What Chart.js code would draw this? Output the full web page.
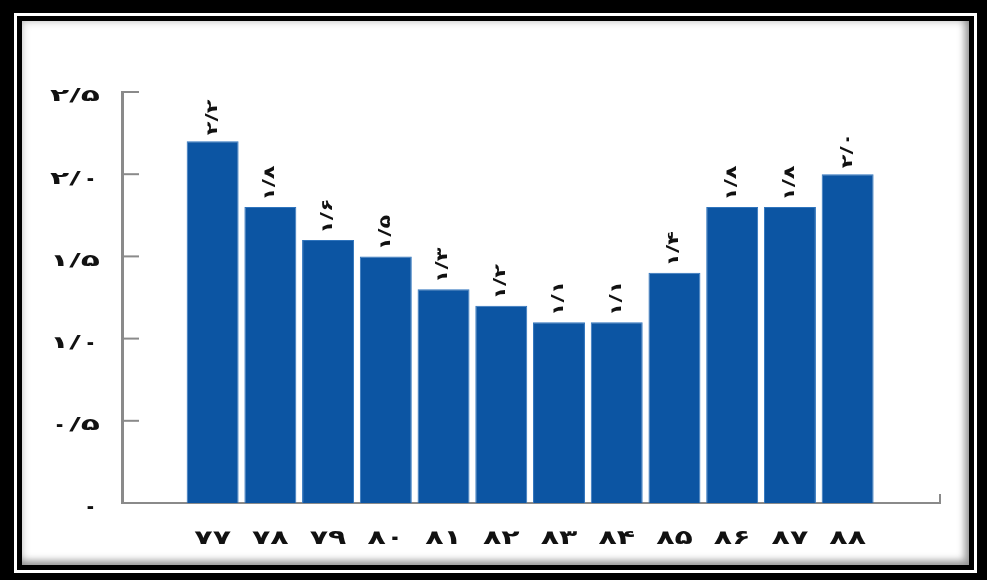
<!DOCTYPE html>
<html>
<head>
<meta charset="utf-8">
<script src="https://cdn.jsdelivr.net/npm/chart.js@4.4.0/dist/chart.umd.min.js"></script>
<style>
  html, body { margin: 0; padding: 0; background: #000; }
  body { width: 987px; height: 580px; position: relative; overflow: hidden; }
  .frame {
    position: absolute; left: 14px; top: 13px; width: 963px; height: 560px;
    box-sizing: border-box; border: 3px solid #fff; background: #000; padding: 5px;
  }
  .inner {
    width: 100%; height: 100%; background: #fff;
    box-shadow: inset 0 0 9px rgba(0,0,0,0.25), inset -5px -5px 7px rgba(0,0,0,0.3);
  }
  #wrap { position: absolute; left: 0; top: 0; width: 987px; height: 580px; }
</style>
</head>
<body>
<div class="frame"><div class="inner"></div></div>
<div id="wrap"><canvas id="barChart" width="987" height="580"></canvas></div>
<script>
// سال‌ها و مقادیر
const categories = ['۷۷', '۷۸', '۷۹', '۸۰', '۸۱', '۸۲', '۸۳', '۸۴', '۸۵', '۸۶', '۸۷', '۸۸'];
const values = [2.2, 1.8, 1.6, 1.5, 1.3, 1.2, 1.1, 1.1, 1.4, 1.8, 1.8, 2.0];
const yTicks = [0, 0.5, 1.0, 1.5, 2.0, 2.5];
const yTickLabels = ['۰', '۰/۵', '۱/۰', '۱/۵', '۲/۰', '۲/۵'];

// عدد به رقم فارسی با ممیز "/"
function toPersian(v) {
    const digits = '۰۱۲۳۴۵۶۷۸۹';
    return v.toFixed(1).replace('.', '/').replace(/\d/g, d => digits[d]);
}

// متن پهن‌شده در جهت افقی (کشش sx)
function drawWide(ctx, text, x, y, sx, align) {
    ctx.save();
    ctx.translate(x, y);
    ctx.scale(sx, 1);
    ctx.textAlign = align;
    ctx.fillText(text, 0, 0);
    ctx.restore();
}

// برچسب محورها، تیک‌های داخل محور عمودی و زائده انتهای محور افقی
const axisMarks = {
    id: 'axisMarks',
    afterDraw(chart) {
        const { ctx, chartArea, scales } = chart;
        ctx.save();
        ctx.strokeStyle = '#8a8a8a';
        ctx.lineWidth = 2;
        yTicks.forEach(v => {
            if (v === 0) return;
            const py = scales.y.getPixelForValue(v);
            ctx.beginPath();
            ctx.moveTo(chartArea.left, py);
            ctx.lineTo(chartArea.left + 17, py);
            ctx.stroke();
        });
        ctx.beginPath();
        ctx.moveTo(chartArea.right, chartArea.bottom);
        ctx.lineTo(chartArea.right, chartArea.bottom - 9);
        ctx.stroke();

        ctx.fillStyle = '#111';
        ctx.textBaseline = 'middle';
        ctx.font = 'bold 17px "DejaVu Sans"';
        yTicks.forEach((v, i) => {
            drawWide(ctx, yTickLabels[i], chartArea.left - 22, scales.y.getPixelForValue(v) + 5, 1.85, 'right');
        });
        ctx.font = 'bold 20px "DejaVu Sans"';
        categories.forEach((c, i) => {
            drawWide(ctx, c, scales.x.getPixelForValue(i), chartArea.bottom + 36, 1.5, 'center');
        });
        ctx.restore();
    }
};

// برچسب عمودی مقدار بالای هر ستون
const barLabels = {
    id: 'barLabels',
    afterDatasetsDraw(chart) {
        const ctx = chart.ctx;
        const meta = chart.getDatasetMeta(0);
        ctx.save();
        ctx.fillStyle = '#111';
        ctx.font = 'bold 15px "DejaVu Sans"';
        ctx.textAlign = 'left';
        ctx.textBaseline = 'middle';
        meta.data.forEach((bar, i) => {
            ctx.save();
            ctx.translate(bar.x, bar.y - 6);
            ctx.rotate(-Math.PI / 2);
            ctx.scale(1.5, 1);
            ctx.fillText(toPersian(values[i]), 0, 0);
            ctx.restore();
        });
        ctx.restore();
    }
};

document.addEventListener('DOMContentLoaded', function () {
    const ctx = document.getElementById('barChart').getContext('2d');
    new Chart(ctx, {
        type: 'bar',
        data: {
            datasets: [{
                data: values.map((v, i) => ({ x: i, y: v })),
                backgroundColor: '#0c55a3',
                borderColor: '#2f74bd',
                borderWidth: 1,
                barPercentage: 0.9,
                categoryPercentage: 1.0
            }]
        },
        plugins: [axisMarks, barLabels],
        options: {
            responsive: false,
            animation: false,
            layout: { padding: { top: 92, right: 47, left: 0, bottom: 0 } },
            plugins: {
                legend: { display: false },
                tooltip: { enabled: false }
            },
            scales: {
                x: {
                    type: 'linear',
                    offset: false,
                    min: -1.57,
                    max: 12.6,
                    afterFit(scale) { scale.height = 77; },
                    afterBuildTicks(scale) {
                        scale.ticks = categories.map((c, i) => ({ value: i }));
                    },
                    grid: { display: false, drawTicks: false, offset: false },
                    border: { display: true, color: '#8a8a8a', width: 2 },
                    ticks: { display: false }
                },
                y: {
                    min: 0,
                    max: 2.5,
                    afterFit(scale) { scale.width = 122; },
                    afterBuildTicks(scale) {
                        scale.ticks = yTicks.map(v => ({ value: v }));
                    },
                    grid: { display: false, drawTicks: false },
                    border: { display: true, color: '#8a8a8a', width: 3 },
                    ticks: { display: false }
                }
            }
        }
    });
});
</script>
</body>
</html>
